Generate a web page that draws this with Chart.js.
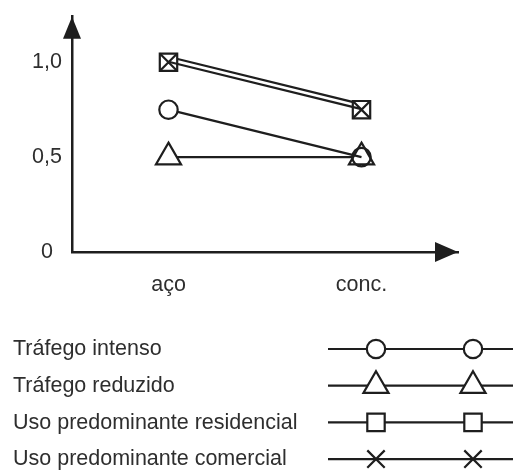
<!DOCTYPE html>
<html><head><meta charset="utf-8">
<script src="https://cdn.jsdelivr.net/npm/chart.js@4/dist/chart.umd.min.js"></script>
<style>html,body{margin:0;padding:0;background:#fff}#wrap{width:513px;height:472px;position:relative}</style>
</head><body><div id="wrap"><canvas id="c"></canvas></div>
<script>
// ---- data ----
const categories = ['aço', 'conc.'];
const trafegoIntenso = [0.75, 0.5];
const trafegoReduzido = [0.5, 0.5];
const usoResidencial = [1.0, 0.75];
const usoComercial = [1.0, 0.75];
const seriesNames = ['Tráfego intenso', 'Tráfego reduzido', 'Uso predominante residencial', 'Uso predominante comercial'];
const yTickValues = [0, 0.5, 1.0];
const yTickLabels = ['0', '0,5', '1,0'];

// ---- styles ----
const INK = '#1e1e1e';
const TEXT = '#2e2e2e';
const FAMILY = "'Liberation Sans', Arial, Helvetica, sans-serif";
const FSIZE = 21.5;
const LW = 2.2;

function ds(label, data, style, radius, order, extra) {
  return Object.assign({
    label, data, order,
    borderColor: INK, borderWidth: LW, tension: 0, clip: false,
    pointStyle: style, pointRadius: radius, pointHoverRadius: radius,
    pointBorderWidth: LW, pointBorderColor: INK, pointBackgroundColor: '#fff'
  }, extra || {});
}

const datasets = [
  ds(seriesNames[0], trafegoIntenso, 'circle', 9.2, 0, {pointBackgroundColor: ['#fff', 'rgba(255,255,255,0)']}),
  ds(seriesNames[1], trafegoReduzido, 'triangle', 14.5, 3),
  ds(seriesNames[2], usoResidencial, 'rect', 12.3, 2, {lineShift: -5.5}),
  ds(seriesNames[3], usoComercial, 'crossRot', 12.3, 1, {lineShift: -0.5})
];

// draw line of a dataset shifted by a few px (double line effect), markers unshifted
const shiftPlugin = {
  id: 'shiftLine',
  beforeDatasetDraw(chart, args) {
    const d = chart.data.datasets[args.index];
    if (!d.lineShift) return;
    const ctx = chart.ctx, meta = args.meta, area = chart.chartArea;
    ctx.save();
    ctx.translate(0, d.lineShift);
    meta.dataset.draw(ctx, area);
    ctx.restore();
    meta.data.forEach(p => p.draw(ctx, area));
    return false;
  }
};

function marker(ctx, style, r, x, y, fill) {
  ctx.save();
  ctx.strokeStyle = INK; ctx.fillStyle = fill; ctx.lineWidth = LW;
  if (Chart.helpers && Chart.helpers.drawPoint) {
    Chart.helpers.drawPoint(ctx, {pointStyle: style, radius: r, rotation: 0, borderWidth: LW}, x, y);
  }
  ctx.restore();
}

const decoPlugin = {
  id: 'deco',
  afterDraw(chart) {
    const ctx = chart.ctx, a = chart.chartArea;
    ctx.save();
    ctx.fillStyle = INK;
    // y arrow
    ctx.beginPath();
    ctx.moveTo(a.left, a.top);
    ctx.lineTo(a.left - 9, a.top + 22);
    ctx.lineTo(a.left + 9, a.top + 22);
    ctx.closePath(); ctx.fill();
    // x arrow
    ctx.beginPath();
    ctx.moveTo(a.right, a.bottom);
    ctx.lineTo(a.right - 23, a.bottom - 10);
    ctx.lineTo(a.right - 23, a.bottom + 10);
    ctx.closePath(); ctx.fill();
    // legend
    chart.data.datasets.forEach((d, i) => {
      const y = 349 + i * 36.7;
      ctx.strokeStyle = INK; ctx.lineWidth = LW;
      ctx.beginPath(); ctx.moveTo(328, y); ctx.lineTo(513, y); ctx.stroke();
      marker(ctx, d.pointStyle, d.pointRadius, 376, y, '#fff');
      marker(ctx, d.pointStyle, d.pointRadius, 473, y, '#fff');
      ctx.fillStyle = TEXT;
      ctx.font = FSIZE + 'px ' + FAMILY;
      ctx.textAlign = 'left'; ctx.textBaseline = 'alphabetic';
      ctx.fillText(d.label, 13, y + 6.3);
    });
    ctx.restore();
  }
};

new Chart(document.getElementById('c'), {
  type: 'line',
  data: {labels: categories, datasets},
  options: {
    responsive: true, maintainAspectRatio: false, animation: false, events: [],
    layout: {padding: {left: 0, top: 12, right: 55, bottom: 170}},
    plugins: {legend: {display: false}, tooltip: {enabled: false}},
    scales: {
      x: {
        type: 'category', offset: true,
        grid: {display: false, drawTicks: false},
        border: {display: true, color: INK, width: 2.5},
        ticks: {color: TEXT, font: {family: FAMILY, size: FSIZE}, padding: 20, maxRotation: 0, autoSkip: false},
        afterFit(s) { s.height = 50; s.paddingLeft = 0; s.paddingRight = 0; }
      },
      y: {
        type: 'linear', min: 0, max: 1.24,
        grid: {display: false, drawTicks: false},
        border: {display: true, color: INK, width: 2.5},
        afterBuildTicks(s) { s.ticks = yTickValues.map(v => ({value: v})); },
        ticks: {
          color: TEXT, font: {family: FAMILY, size: FSIZE}, padding: 10, crossAlign: 'center',
          callback(v) { const k = yTickValues.indexOf(v); return k >= 0 ? yTickLabels[k] : ''; }
        },
        afterFit(s) { s.width = 72; s.paddingTop = 0; s.paddingBottom = 0; }
      }
    }
  },
  plugins: [shiftPlugin, decoPlugin]
});
</script>
</body></html>
